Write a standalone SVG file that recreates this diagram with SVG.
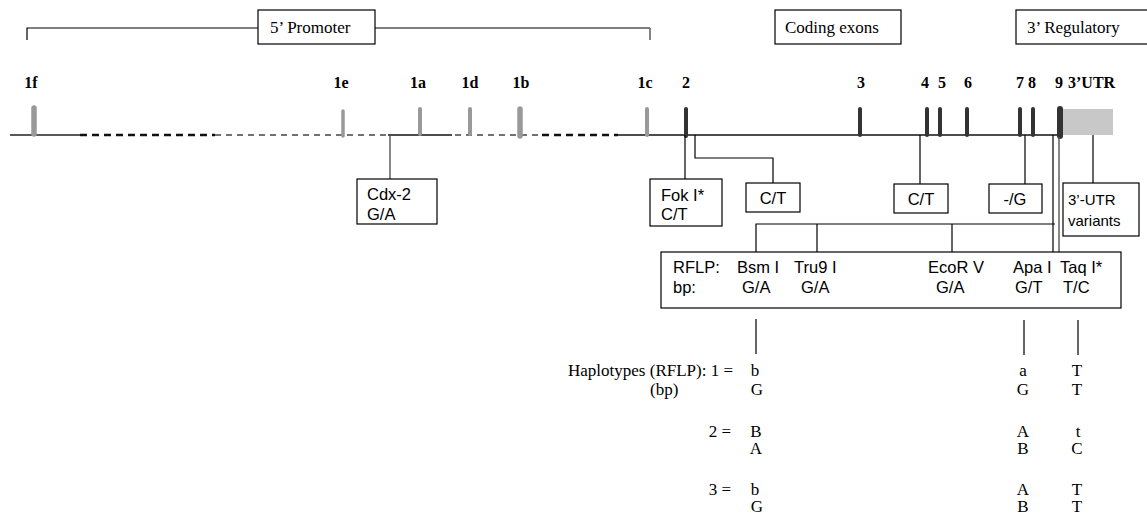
<svg xmlns="http://www.w3.org/2000/svg" width="1147" height="515" viewBox="0 0 1147 515">
  <style>
    .bg { fill: #ffffff; }
    .box { fill: #ffffff; stroke: #000000; stroke-width: 1.2; }
    .ln { fill: none; stroke: #000000; stroke-width: 1.2; }
    .lng { fill: none; stroke: #555555; stroke-width: 1.4; }
    .serif { font-family: "Liberation Serif", "Times New Roman", serif; fill: #000000; }
    .sans { font-family: "Liberation Sans", Arial, sans-serif; fill: #000000; }
    .title { font-size: 17px; }
    .exl { font-size: 16px; font-weight: bold; text-anchor: middle; }
    .lab { font-size: 16.5px; }
    .hap { font-size: 17px; }
    .exg { stroke: #999999; stroke-linecap: round; fill: none; }
    .exd { stroke: #333333; stroke-linecap: round; fill: none; }
  </style>

  <rect class="bg" x="0" y="0" width="1147" height="515"/>

  <!-- Region headers -->
  <g id="region-promoter">
    <path class="ln" d="M27 40 V28 H258 M375 28 H650"/>
    <path d="M650 28 V40" stroke="#666666" stroke-width="1.6" fill="none"/>
    <rect class="box" x="258" y="10" width="117" height="34"/>
    <text class="serif title" x="270" y="33">5’ Promoter</text>
  </g>
  <g id="region-coding">
    <rect class="box" x="775" y="10" width="126" height="34"/>
    <text class="serif title" x="785" y="33">Coding exons</text>
  </g>
  <g id="region-regulatory">
    <rect class="box" x="1016" y="10" width="135" height="34"/>
    <text class="serif title" x="1027" y="33">3’ Regulatory</text>
  </g>

  <!-- Gene backbone -->
  <g id="backbone">
    <path d="M10 135 H80" stroke="#222222" stroke-width="1.3" fill="none"/>
    <path d="M80 135 H215" stroke="#111111" stroke-width="2.6" stroke-dasharray="7 5" fill="none"/>
    <path d="M215 135 H388" stroke="#444444" stroke-width="1.3" stroke-dasharray="6 5" fill="none"/>
    <path d="M388 135 H452" stroke="#111111" stroke-width="1.3" fill="none"/>
    <path d="M455 135 H542" stroke="#444444" stroke-width="1.3" stroke-dasharray="6 5" fill="none"/>
    <path d="M542 135 H618" stroke="#111111" stroke-width="2.6" stroke-dasharray="7 5" fill="none"/>
    <path d="M618 135 H1062" stroke="#111111" stroke-width="1.3" fill="none"/>
    <rect x="1063" y="109" width="50" height="26" fill="#c8c8c8"/>
  </g>

  <!-- Exons -->
  <g id="exon-1f"><path class="exg" d="M34 108 V134" stroke-width="5.5"/><text class="serif exl" x="31" y="88">1f</text></g>
  <g id="exon-1e"><path class="exg" d="M343 111 V136" stroke-width="3.5"/><text class="serif exl" x="341" y="88">1e</text></g>
  <g id="exon-1a"><path class="exg" d="M420 109 V134" stroke-width="4"/><text class="serif exl" x="418" y="88">1a</text></g>
  <g id="exon-1d"><path class="exg" d="M470 109 V134" stroke-width="4"/><text class="serif exl" x="470" y="88">1d</text></g>
  <g id="exon-1b"><path class="exg" d="M520 109 V136" stroke-width="5.5"/><text class="serif exl" x="521" y="88">1b</text></g>
  <g id="exon-1c"><path class="exg" d="M647 109 V135" stroke-width="4" stroke="#a8a8a8"/><text class="serif exl" x="645" y="88">1c</text></g>
  <g id="exon-2"><path class="exd" d="M686 109 V136" stroke-width="4"/><text class="serif exl" x="686" y="88">2</text></g>
  <g id="exon-3"><path class="exd" d="M860 109 V135" stroke-width="4"/><text class="serif exl" x="861" y="88">3</text></g>
  <g id="exon-4"><path class="exd" d="M927 109 V135" stroke-width="4"/><text class="serif exl" x="925" y="88">4</text></g>
  <g id="exon-5"><path class="exd" d="M940 109 V135" stroke-width="4"/><text class="serif exl" x="942" y="88">5</text></g>
  <g id="exon-6"><path class="exd" d="M967 109 V135" stroke-width="4"/><text class="serif exl" x="968" y="88">6</text></g>
  <g id="exon-7"><path class="exd" d="M1020 109 V135" stroke-width="4"/><text class="serif exl" x="1020" y="88">7</text></g>
  <g id="exon-8"><path class="exd" d="M1033 109 V135" stroke-width="4"/><text class="serif exl" x="1032" y="88">8</text></g>
  <g id="exon-9"><path class="exd" d="M1060 109 V136" stroke-width="6"/><text class="serif exl" x="1059" y="88">9</text></g>
  <g id="utr3"><text class="serif exl" x="1068" y="88" style="text-anchor:start">3’UTR</text></g>

  <!-- Connectors from backbone to variant boxes -->
  <g id="connectors">
    <path class="lng" d="M390 135 V179"/>
    <path class="ln" d="M685 135 V179"/>
    <path class="ln" d="M695 135 V158 H773 V183"/>
    <path class="ln" d="M920 135 V184"/>
    <path class="ln" d="M1025 135 V184"/>
    <path class="ln" d="M1093 135 V183"/>
    <path class="ln" d="M1053 135 V252"/>
    <path class="lng" d="M1059 137 V252" stroke-width="1.6"/>
    <path class="ln" d="M756 252 V224 H1055 M817 224 V252 M952 224 V252"/>
    <path class="ln" d="M756 319 V354 M1024 320 V355 M1078 320 V355"/>
  </g>

  <!-- Variant boxes -->
  <g id="var-cdx2">
    <rect class="box" x="357" y="179" width="80" height="45"/>
    <text class="sans lab" x="367" y="200">Cdx-2</text>
    <text class="sans lab" x="367" y="220">G/A</text>
  </g>
  <g id="var-foki">
    <rect class="box" x="650" y="179" width="72" height="47"/>
    <text class="sans lab" x="661" y="201">Fok I*</text>
    <text class="sans lab" x="661" y="220">C/T</text>
  </g>
  <g id="var-ct1">
    <rect class="box" x="746" y="183" width="54" height="29"/>
    <text class="sans lab" x="773" y="204" text-anchor="middle">C/T</text>
  </g>
  <g id="var-ct2">
    <rect class="box" x="894" y="184" width="54" height="29"/>
    <text class="sans lab" x="921" y="205" text-anchor="middle">C/T</text>
  </g>
  <g id="var-g">
    <rect class="box" x="989" y="184" width="53" height="29"/>
    <text class="sans lab" x="1015" y="205" text-anchor="middle">-/G</text>
  </g>
  <g id="var-utr">
    <rect class="box" x="1063" y="183" width="76" height="53"/>
    <text class="sans" font-size="15" x="1068" y="205">3’-UTR</text>
    <text class="sans" font-size="15" x="1068" y="226">variants</text>
  </g>

  <!-- RFLP panel -->
  <g id="rflp">
    <rect class="box" x="661" y="252" width="460" height="56"/>
    <g class="sans lab">
      <text x="673" y="273">RFLP:</text>
      <text x="673" y="293">bp:</text>
      <text x="737" y="273">Bsm I</text>
      <text x="794" y="273">Tru9 I</text>
      <text x="928" y="273">EcoR V</text>
      <text x="1013" y="273">Apa I</text>
      <text x="1060" y="273">Taq I*</text>
      <text x="742" y="293">G/A</text>
      <text x="801" y="293">G/A</text>
      <text x="936" y="293">G/A</text>
      <text x="1015" y="293">G/T</text>
      <text x="1063" y="293">T/C</text>
    </g>
  </g>

  <!-- Haplotype table -->
  <g id="haplotypes" class="serif hap">
    <text x="733" y="376" text-anchor="end">Haplotypes (RFLP): 1 =</text>
    <text x="650" y="395">(bp)</text>
    <text x="731" y="437" text-anchor="end">2 =</text>
    <text x="731" y="495" text-anchor="end">3 =</text>
    <g text-anchor="middle">
      <text x="755" y="376">b</text>
      <text x="757" y="395">G</text>
      <text x="756" y="437">B</text>
      <text x="756" y="454">A</text>
      <text x="755" y="495">b</text>
      <text x="757" y="512">G</text>
      <text x="1023" y="376">a</text>
      <text x="1023" y="395">G</text>
      <text x="1023" y="437">A</text>
      <text x="1023" y="454">B</text>
      <text x="1023" y="495">A</text>
      <text x="1023" y="512">B</text>
      <text x="1077" y="376">T</text>
      <text x="1077" y="395">T</text>
      <text x="1078" y="437">t</text>
      <text x="1077" y="454">C</text>
      <text x="1077" y="495">T</text>
      <text x="1077" y="512">T</text>
    </g>
  </g>
</svg>
